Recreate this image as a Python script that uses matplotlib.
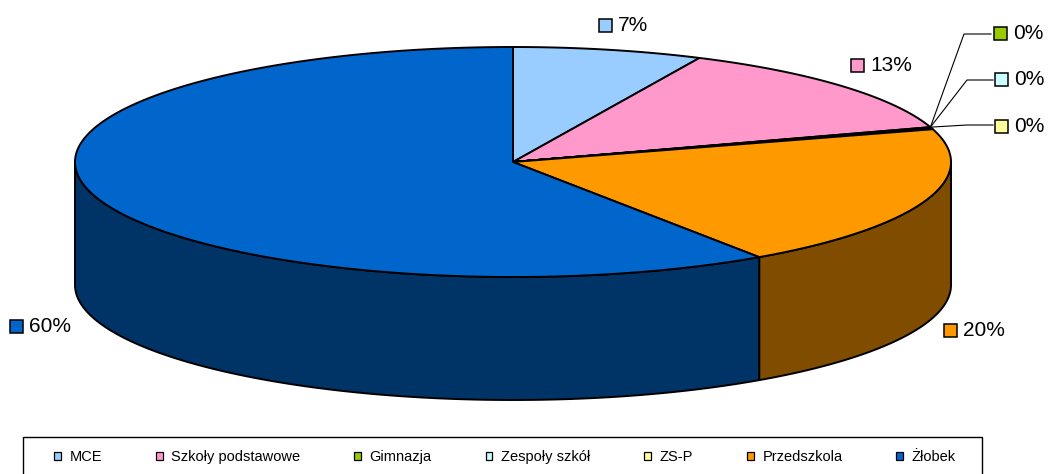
import numpy as np
import matplotlib.pyplot as plt
from matplotlib.patches import Polygon, Rectangle, Patch

plt.rcParams['font.family'] = ['Liberation Sans', 'DejaVu Sans']

# Dane (udział procentowy)
kategorie = ["MCE", "Szkoły podstawowe", "Gimnazja", "Zespoły szkół", "ZS-P", "Przedszkola", "Żłobek"]
udzialy = [7.0, 13.1, 0.1, 0.1, 0.1, 20.1, 59.5]
kolory = ["#99CCFF", "#FF99CC", "#99CC00", "#CCFFFF", "#FFFF99", "#FF9900", "#0066CC"]

# Geometria tortu 3D (piksele)
cx, cy = 513, 162
rx, ry = 438, 115
glebokosc = 123

# Pozycje etykiet (x środka kwadratu, y środka)
poz_etykiet = [(605, 25), (857, 65), (1000, 33), (1001, 79), (1001, 126), (950, 330), (16, 326)]
# linie odniesienia dla zerowych udziałów
linie_odn = {2: [(964, 34), (991, 34)], 3: [(967, 80), (993, 80)], 4: [(967, 125), (993, 125)]}


def punkt(t, dz=0):
    return cx + rx * np.cos(np.radians(t)), cy - ry * np.sin(np.radians(t)) + dz


def ciemniejszy(kolor):
    r, g, b = [int(kolor[i:i + 2], 16) for i in (1, 3, 5)]
    return "#%02x%02x%02x" % (r // 2, g // 2, b // 2)


fig = plt.figure(figsize=(10.49, 4.74), dpi=100)
ax = fig.add_axes([0, 0, 1, 1])
ax.set_xlim(0, 1049)
ax.set_ylim(474, 0)
ax.axis("off")

suma = sum(udzialy)
katy = [90.0]
for u in udzialy:
    katy.append(katy[-1] - u / suma * 360)

# Ściany boczne (widoczne od przodu: kąty od -180 do 0)
for i in range(len(udzialy)):
    t0, t1 = katy[i], katy[i + 1]
    lo, hi = max(t1, -180), min(t0, 0)
    if hi <= lo:
        continue
    ts = np.linspace(hi, lo, 200)
    gora = [punkt(t) for t in ts]
    dol = [punkt(t, glebokosc) for t in ts[::-1]]
    ax.add_patch(Polygon(gora + dol, closed=True, facecolor=ciemniejszy(kolory[i]),
                         edgecolor="black", linewidth=1.4, joinstyle="round"))

# Wierzch tortu
for i in range(len(udzialy)):
    t0, t1 = katy[i], katy[i + 1]
    n = max(3, int(abs(t0 - t1) * 3))
    ts = np.linspace(t0, t1, n)
    pts = [(cx, cy)] + [punkt(t) for t in ts]
    ax.add_patch(Polygon(pts, closed=True, facecolor=kolory[i],
                         edgecolor="black", linewidth=1.4, joinstyle="round"))

# Etykiety procentowe
for i, u in enumerate(udzialy):
    bx, by = poz_etykiet[i]
    ax.add_patch(Rectangle((bx - 6.5, by - 6.5), 13, 13, facecolor=kolory[i],
                           edgecolor="black", linewidth=1.1))
    ax.text(bx + 13, by, "%d%%" % round(u), fontsize=15, va="center", ha="left")
    if i in linie_odn:
        start = punkt(katy[2])
        xs = [start[0]] + [p[0] for p in linie_odn[i]]
        ys = [start[1]] + [p[1] for p in linie_odn[i]]
        ax.plot(xs, ys, color="black", linewidth=0.8)

# Legenda
ax.add_patch(Rectangle((23, 437), 959, 60, facecolor="white", edgecolor="black",
                       linewidth=1.0, clip_on=False))
uchwyty = [Patch(facecolor=k, edgecolor="black", linewidth=0.9) for k in kolory]
ax.legend(uchwyty, kategorie, ncol=7, loc="center", bbox_to_anchor=(505, 457),
          bbox_transform=ax.transData, frameon=False, fontsize=10.5,
          handlelength=0.45, handleheight=0.45, handletextpad=0.6,
          columnspacing=3.7, borderpad=0)

fig.savefig("out.png", dpi=100)
